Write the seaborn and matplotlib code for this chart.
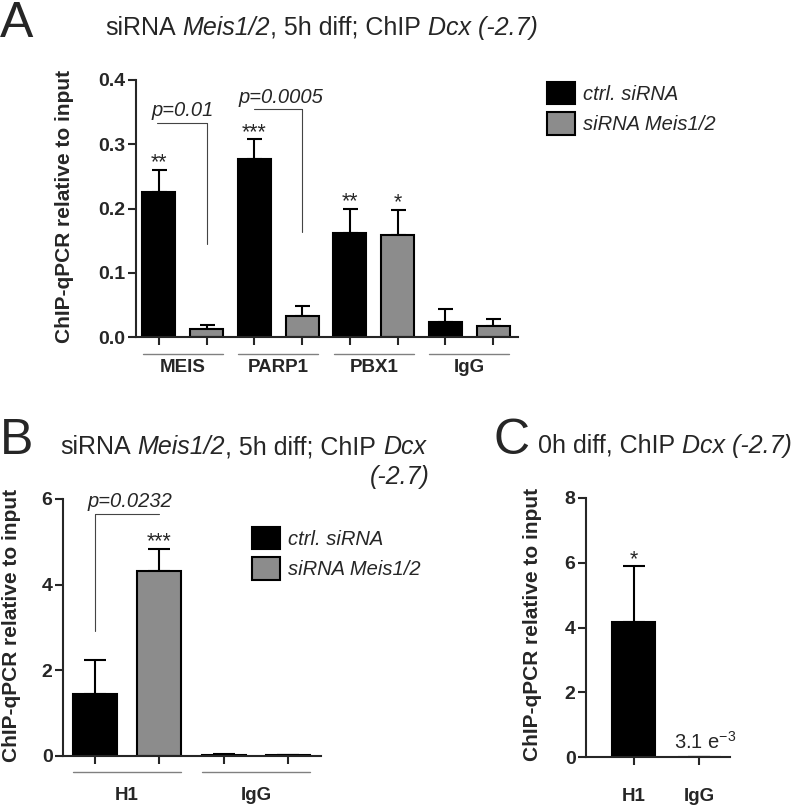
import matplotlib
matplotlib.use('Agg')
import matplotlib.pyplot as plt
import numpy as np
import pandas as pd
import seaborn as sns

# panel A: siRNA Meis1/2, 5h diff; ChIP Dcx (-2.7)
targets_a = ['MEIS', 'PARP1', 'PBX1', 'IgG']
ctrl_a = [0.225, 0.277, 0.162, 0.024]
ctrl_a_err = [0.035, 0.031, 0.038, 0.019]
kd_a = [0.012, 0.033, 0.158, 0.017]
kd_a_err = [0.007, 0.015, 0.040, 0.011]
stars_ctrl_a = ['**', '***', '**', '']
stars_kd_a = ['', '', '*', '']

# panel B
targets_b = ['H1', 'IgG']
ctrl_b = [1.44, 0.03]
ctrl_b_err = [0.79, 0.01]
kd_b = [4.31, 0.02]
kd_b_err = [0.53, 0.01]
stars_ctrl_b = ['', '']
stars_kd_b = ['***', '']

# panel C: 0h diff
targets_c = ['H1', 'IgG']
vals_c = [4.17, 0.0031]
err_c = [1.72, 0.0]
stars_c = ['*', '']

conditions = ['ctrl. siRNA', 'siRNA Meis1/2']
colors = ['#000000', '#8c8c8c']

W, H = 791, 806

sns.set_style('ticks')
plt.rcParams['font.family'] = ['Liberation Sans', 'DejaVu Sans']
plt.rcParams['mathtext.fontset'] = 'custom'
plt.rcParams['mathtext.rm'] = 'Liberation Sans'
plt.rcParams['mathtext.it'] = 'Liberation Sans:italic'
plt.rcParams['mathtext.default'] = 'regular'
plt.rcParams['axes.linewidth'] = 1.5


def px_axes(fig, left, right, top, bottom):
    return fig.add_axes([left / W, 1 - bottom / H, (right - left) / W, (bottom - top) / H])


def bar_panel(ax, targets, series, errs, stars, names, width, gap, capsize):
    df = pd.concat([pd.DataFrame({'target': targets, 'value': v, 'condition': n})
                    for v, n in zip(series, names)], ignore_index=True)
    sns.barplot(data=df, x='target', y='value', hue='condition', hue_order=names,
                palette=colors[:len(names)], width=width, gap=gap, saturation=1,
                edgecolor='black', linewidth=1.5, errorbar=None, ax=ax)
    xs = []
    for cont, e, st in zip(ax.containers, errs, stars):
        bx = [b.get_x() + b.get_width() / 2 for b in cont]
        tops = [b.get_height() for b in cont]
        xs.append(bx)
        ax.errorbar(bx, tops, yerr=[np.zeros(len(e)), e], fmt='none', ecolor='black',
                    elinewidth=1.5, capsize=capsize, capthick=1.5, zorder=0.9)
        for x, t, er, s in zip(bx, tops, e, st):
            if s:
                ax.annotate(s, xy=(x, t + er), xytext=(0, 1), textcoords='offset points',
                            ha='center', va='baseline', fontsize=15.5)
    ax.set_xlabel('')
    ax.set_ylabel('')
    sns.despine(ax=ax)
    ax.set_xticks(sorted(sum(xs, [])))
    ax.set_xticklabels([])
    ax.tick_params(axis='both', length=6, width=1.5, pad=1.5)
    return xs


def finish(ax, targets, ticks, fmt, label_y, underline_y=None):
    ax.set_ylim(ticks[0], ticks[-1])
    ax.set_yticks(ticks, [fmt.format(t) for t in ticks], fontweight='bold', fontsize=14)
    tr = ax.get_xaxis_transform()
    for i, name in enumerate(targets):
        ax.text(i, label_y, name, transform=tr, ha='center', va='center',
                fontweight='bold', fontsize=13.5)
        if underline_y is not None:
            ax.plot([i - 0.42, i + 0.42], [underline_y, underline_y], transform=tr,
                    color='#808080', lw=1, clip_on=False)


def bracket(ax, x0, x1, y, ydrop, xdrop, text, xt, yt):
    ax.plot([x0, x1], [y, y], color='#444444', lw=0.8)
    ax.plot([xdrop, xdrop], [y, ydrop], color='#444444', lw=0.8)
    ax.text(xt, yt, text, ha='center', va='baseline', style='italic', fontsize=14.5)


def legend_at(ax, fig, x, y):
    leg = ax.get_legend()
    handles, labels = leg.legend_handles, [t.get_text() for t in leg.get_texts()]
    leg.remove()
    fs = 14.5 * 100 / 72
    ax.legend(handles, labels, loc='upper left', bbox_to_anchor=(x / W, 1 - y / H),
              bbox_transform=fig.transFigure, frameon=False, borderpad=0,
              borderaxespad=0, handlelength=28 / fs, handleheight=27 / fs,
              handletextpad=8 / fs, labelspacing=8 / fs,
              prop={'style': 'italic', 'size': 14.5})


def rich(lay, x, y, parts, size, **kw):
    t = lay.text(x, y, parts[0][0], fontsize=size, style=parts[0][1], va='baseline', **kw)
    for txt, st in parts[1:]:
        gap = (len(txt) - len(txt.lstrip(' '))) * 0.278 * size
        t = lay.annotate(txt.lstrip(' '), xy=(1, 0), xycoords=t, xytext=(gap, 0),
                         textcoords='offset points', fontsize=size, style=st,
                         va='bottom', ha='left')
    return t


fig = plt.figure(figsize=(W / 100, H / 100), dpi=100)

lay = fig.add_axes([0, 0, 1, 1], zorder=-1)
lay.set_xlim(0, W)
lay.set_ylim(H, 0)
lay.axis('off')

# ---- panel A
ax_a = px_axes(fig, 136, 518, 80, 337)
xs_a = bar_panel(ax_a, targets_a, [ctrl_a, kd_a], [ctrl_a_err, kd_a_err],
                 [stars_ctrl_a, stars_kd_a], conditions, 1.0, 0.31, 5.4)
ax_a.set_xlim(-0.49, 3.51)
finish(ax_a, targets_a, [0.0, 0.1, 0.2, 0.3, 0.4], '{:.1f}', -0.12, -0.066)
bracket(ax_a, xs_a[0][0] - 0.02, xs_a[1][0], 0.333, 0.145, xs_a[1][0], 'p=0.01', 0, 0.344)
bracket(ax_a, xs_a[0][1], xs_a[1][1], 0.355, 0.163, xs_a[1][1], 'p=0.0005', 1.03, 0.364)
ax_a.set_ylabel('ChIP-qPCR relative to input', fontweight='bold', fontsize=15, va='center')
ax_a.yaxis.set_label_coords((65 - 136) / 382, 0.508)
legend_at(ax_a, fig, 547, 82)

# ---- panel B
ax_b = px_axes(fig, 63, 321, 499, 756)
xs_b = bar_panel(ax_b, targets_b, [ctrl_b, kd_b], [ctrl_b_err, kd_b_err],
                 [stars_ctrl_b, stars_kd_b], conditions, 1.0, 0.32, 8)
ax_b.set_xlim(-0.496, 1.504)
finish(ax_b, targets_b, [0, 2, 4, 6], '{:d}', -0.152, -0.061)
bracket(ax_b, xs_b[0][0], xs_b[1][0], 5.65, 2.92, xs_b[0][0], 'p=0.0232', 0.02, 5.82)
ax_b.set_ylabel('ChIP-qPCR relative to input', fontweight='bold', fontsize=15, va='center')
ax_b.yaxis.set_label_coords((12 - 63) / 258, 0.508)
legend_at(ax_b, fig, 252, 527)

# ---- panel C
ax_c = px_axes(fig, 586, 730, 498, 757)
xs_c = bar_panel(ax_c, targets_c, [vals_c], [err_c], [stars_c], conditions[:1], 0.66, 0, 7.8)
ax_c.get_legend().remove()
ax_c.set_xlim(-0.725, 1.47)
finish(ax_c, targets_c, [0, 2, 4, 6, 8], '{:d}', -0.154)
ax_c.annotate(r'3.1 e$^{-3}$', xy=(xs_c[0][1], vals_c[1]), xytext=(4, 6),
              textcoords='offset points', ha='center', va='baseline', fontsize=14.5)
ax_c.set_ylabel('ChIP-qPCR relative to input', fontweight='bold', fontsize=15, va='center')
ax_c.yaxis.set_label_coords((532 - 586) / 144, 0.51)

# ---- titles and panel letters
lay.text(0, 37, 'A', fontsize=36, va='baseline')
lay.text(0, 454, 'B', fontsize=36, va='baseline')
lay.text(494, 454, 'C', fontsize=36, va='baseline')
rich(lay, 105, 35, [('siRNA', 'normal'), (' Meis1/2', 'italic'),
                    (', 5h diff; ChIP', 'normal'), (' Dcx (-2.7)', 'italic')], 18)
rich(lay, 60, 454, [('siRNA', 'normal'), (' Meis1/2', 'italic'),
                    (', 5h diff; ChIP', 'normal'), (' Dcx', 'italic')], 18)
lay.text(430, 484, '(-2.7)', fontsize=18, style='italic', va='baseline', ha='right')
rich(lay, 538, 453, [('0h diff, ChIP', 'normal'), (' Dcx (-2.7)', 'italic')], 18)

fig.savefig('out.png', dpi=100)
